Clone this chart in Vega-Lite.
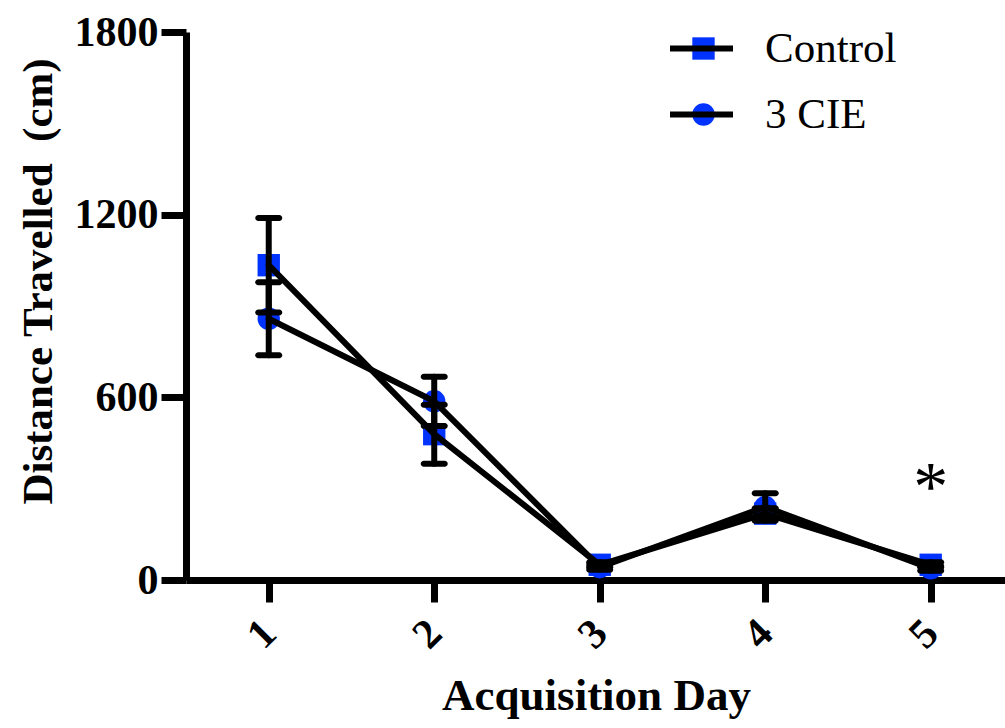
{
  "$schema": "https://vega.github.io/schema/vega-lite/v6.json",
  "width": 820,
  "height": 548,
  "autosize": "none",
  "padding": {"left": 186, "top": 32, "right": 0, "bottom": 148},
  "background": "white",
  "config": {"view": {"stroke": null}, "font": "Liberation Serif"},
  "data": {
    "values": [
      {"day": 1, "group": "Control", "mean": 1034, "err": 155},
      {"day": 2, "group": "Control", "mean": 479, "err": 97},
      {"day": 3, "group": "Control", "mean": 50, "err": 8},
      {"day": 4, "group": "Control", "mean": 218, "err": 18},
      {"day": 5, "group": "Control", "mean": 50, "err": 8},
      {"day": 1, "group": "3 CIE", "mean": 858, "err": 120},
      {"day": 2, "group": "3 CIE", "mean": 587, "err": 81},
      {"day": 3, "group": "3 CIE", "mean": 42, "err": 8},
      {"day": 4, "group": "3 CIE", "mean": 240, "err": 45},
      {"day": 5, "group": "3 CIE", "mean": 38, "err": 8}
    ]
  },
  "layer": [
    {
      "mark": {"type": "point", "filled": true, "size": 500, "opacity": 1, "color": "#0033ff"},
      "encoding": {
        "x": {
          "field": "day", "type": "quantitative", "title": "Acquisition Day",
          "scale": {"domain": [0.5, 5.455], "nice": false, "zero": false},
          "axis": {
            "values": [1, 2, 3, 4, 5], "format": "d", "grid": false,
            "domainColor": "black", "domainWidth": 7, "tickColor": "black", "tickWidth": 7, "tickSize": 22,
            "labelAngle": -45, "labelFont": "Liberation Serif", "labelFontWeight": "bold", "labelFontSize": 42,
            "labelColor": "black", "labelPadding": 10, "labelOffset": -14,
            "titleFont": "Liberation Serif", "titleFontWeight": "bold", "titleFontSize": 45, "titleColor": "black", "titlePadding": 18
          }
        },
        "y": {
          "field": "mean", "type": "quantitative", "title": "Distance Travelled \u00a0(cm)",
          "scale": {"domain": [0, 1800], "nice": false},
          "axis": {
            "values": [0, 600, 1200, 1800], "format": "d", "grid": false,
            "domainColor": "black", "domainWidth": 7, "tickColor": "black", "tickWidth": 7, "tickSize": 25,
            "labelFont": "Liberation Serif", "labelFontWeight": "bold", "labelFontSize": 42, "labelColor": "black", "labelPadding": 3,
            "titleFont": "Liberation Serif", "titleFontWeight": "bold", "titleFontSize": 43, "titleColor": "black", "titlePadding": 14,
            "titleY": 249
          }
        },
        "shape": {
          "field": "group", "type": "nominal", "sort": ["Control", "3 CIE"],
          "scale": {"range": ["square", "circle"]},
          "legend": {
            "orient": "none", "legendX": 496, "legendY": -5, "title": null, "padding": 0,
            "symbolSize": 500, "symbolFillColor": "#0033ff", "symbolStrokeWidth": 0, "symbolOpacity": 1,
            "labelFont": "Liberation Serif", "labelFontSize": 43, "labelColor": "black", "labelOffset": 40,
            "rowPadding": 22
          }
        }
      }
    },
    {
      "mark": {"type": "line", "strokeWidth": 6, "strokeCap": "round", "strokeJoin": "round"},
      "encoding": {
        "x": {"field": "day", "type": "quantitative", "title": "Acquisition Day"},
        "y": {"field": "mean", "type": "quantitative", "title": "Distance Travelled \u00a0(cm)"},
        "stroke": {
          "field": "group", "type": "nominal",
          "scale": {"domain": ["Control", "3 CIE"], "range": ["black", "black"]},
          "legend": {
            "orient": "none", "legendX": 481, "legendY": -18, "title": null, "padding": 0,
            "symbolType": "stroke", "symbolSize": 3969, "symbolStrokeWidth": 6, "symbolStrokeColor": "black",
            "labelExpr": "''", "labelFontSize": 43, "rowPadding": 9
          }
        }
      }
    },
    {
      "mark": {
        "type": "errorbar", "color": "black",
        "ticks": {"thickness": 6, "size": 27, "color": "black", "opacity": 1, "cornerRadius": 3},
        "rule": {"strokeWidth": 6, "strokeCap": "round", "opacity": 1}
      },
      "encoding": {
        "x": {"field": "day", "type": "quantitative", "title": "Acquisition Day"},
        "y": {"field": "mean", "type": "quantitative", "title": "Distance Travelled \u00a0(cm)"},
        "yError": {"field": "err"}
      }
    },
    {
      "data": {"values": [{"day": 5, "v": 300, "t": "*"}]},
      "mark": {"type": "text", "fontSize": 70, "font": "Liberation Serif", "baseline": "middle", "color": "black"},
      "encoding": {
        "x": {"field": "day", "type": "quantitative", "title": "Acquisition Day"},
        "y": {"field": "v", "type": "quantitative", "title": "Distance Travelled \u00a0(cm)"},
        "text": {"field": "t"}
      }
    }
  ]
}
